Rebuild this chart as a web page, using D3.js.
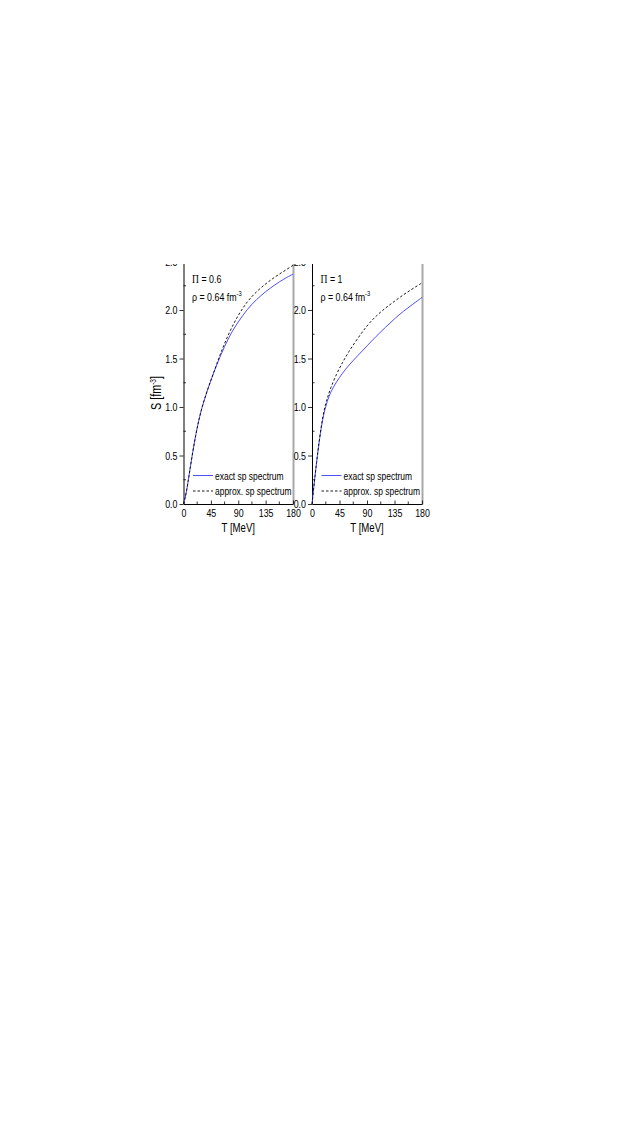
<!DOCTYPE html>
<html>
<head>
<meta charset="utf-8">
<script src="https://cdn.jsdelivr.net/npm/d3@7"></script>
<style>
  body { margin: 0; background: #fff; }
  svg text { font-family: "Liberation Sans", Arial, sans-serif; fill: #000; }
</style>
</head>
<body>
<script>
// temperature grid (MeV) shared by all curves
const tVals = [0, 2.5, 5, 7.5, 10, 15, 20, 25, 30, 40, 50, 60, 75, 90, 105, 120, 135, 150, 165, 180];

// Pi = 0.6 panel
const leftExact  = [0, 0.06, 0.13, 0.23, 0.33, 0.53, 0.71, 0.86, 0.99, 1.19, 1.36, 1.52, 1.73, 1.88, 2.01, 2.11, 2.19, 2.26, 2.32, 2.37];
const leftApprox = [0, 0.06, 0.13, 0.23, 0.33, 0.53, 0.71, 0.86, 0.99, 1.19, 1.36, 1.54, 1.77, 1.95, 2.09, 2.19, 2.27, 2.34, 2.40, 2.46];

// Pi = 1 panel
const rightExact  = [0, 0.15, 0.29, 0.43, 0.56, 0.79, 0.95, 1.06, 1.15, 1.26, 1.35, 1.43, 1.53, 1.63, 1.73, 1.82, 1.91, 1.99, 2.06, 2.13];
const rightApprox = [0, 0.15, 0.29, 0.43, 0.56, 0.80, 0.98, 1.09, 1.19, 1.34, 1.46, 1.57, 1.71, 1.84, 1.94, 2.02, 2.09, 2.16, 2.22, 2.28];

const xTicks = [0, 45, 90, 135, 180];
const yTicks = [0, 0.5, 1.0, 1.5, 2.0, 2.5];
const legendLabels = ["exact sp spectrum", "approx. sp spectrum"];

const W = 627, H = 1127;
const blue = "#4f4fff";
const SX = 0.77;   // the source uses a narrow sans face

const svg = d3.select("body").append("svg")
  .attr("width", W).attr("height", H);

// the source figure is cut off along the top
svg.append("defs").append("clipPath").attr("id", "pageClip")
  .append("rect").attr("x", 0).attr("y", 264).attr("width", W).attr("height", H - 264);

const root = svg.append("g").attr("clip-path", "url(#pageClip)");

// condensed text placed at (x, y)
function ctext(parent, x, y, size, anchor, extra) {
  return parent.append("g")
    .attr("transform", `translate(${x},${y})${extra || ""} scale(${SX},1)`)
    .append("text")
    .attr("font-size", size)
    .attr("text-anchor", anchor || "start");
}

const y = d3.scaleLinear().domain([0, 2.5]).range([504, 261.5]);

const panels = [
  { x0: 183.5, x1: 293, exact: leftExact, approx: leftApprox, pi: "0.6", showYTitle: true, legendX: 193 },
  { x0: 312, x1: 422, exact: rightExact, approx: rightApprox, pi: "1", showYTitle: false, legendX: 321.5 }
];

panels.forEach(p => {
  const x = d3.scaleLinear().domain([0, 180]).range([p.x0, p.x1]);
  const g = root.append("g");

  // right frame edge (grey)
  g.append("line")
    .attr("x1", p.x1 + 0.5).attr("x2", p.x1 + 0.5)
    .attr("y1", 258).attr("y2", 504.5)
    .attr("stroke", "#a8a8a8").attr("stroke-width", 2);

  // minor ticks (inside)
  const minorX = d3.range(22.5, 180, 45);
  g.selectAll(".mx").data(minorX).enter().append("line")
    .attr("x1", d => x(d)).attr("x2", d => x(d))
    .attr("y1", 504).attr("y2", 501.5)
    .attr("stroke", "#000").attr("stroke-width", 0.8);
  const minorY = d3.range(0.25, 2.5, 0.5);
  g.selectAll(".my").data(minorY).enter().append("line")
    .attr("x1", p.x0).attr("x2", p.x0 + 2.5)
    .attr("y1", d => y(d)).attr("y2", d => y(d))
    .attr("stroke", "#000").attr("stroke-width", 0.8);

  // axes
  const xAxis = g.append("g").attr("transform", "translate(0,504)")
    .call(d3.axisBottom(x).tickValues(xTicks).tickFormat(d3.format("d"))
      .tickSize(-3.5).tickPadding(5).tickSizeOuter(0));
  const yAxis = g.append("g").attr("transform", `translate(${p.x0},0)`)
    .call(d3.axisLeft(y).tickValues(yTicks).tickFormat(d3.format(".1f"))
      .tickSize(4).tickPadding(3).tickSizeOuter(0));
  [xAxis, yAxis].forEach(a => {
    a.select(".domain").attr("stroke", "#000").attr("stroke-width", 1);
    a.selectAll(".tick line").attr("stroke", "#000").attr("stroke-width", 0.8);
    a.selectAll("text").attr("font-size", 11.5).attr("font-family", null).attr("fill", "#000")
      .attr("transform", `scale(${SX},1)`);
  });
  yAxis.selectAll("text").attr("x", -6 / SX);
  xAxis.selectAll("text").attr("dy", "0.71em");

  // curves
  const line = d3.line().x((d, i) => x(tVals[i])).y(d => y(d)).curve(d3.curveBasis);
  g.append("path").datum(p.exact).attr("d", line)
    .attr("fill", "none").attr("stroke", blue).attr("stroke-width", 1);
  g.append("path").datum(p.approx).attr("d", line)
    .attr("fill", "none").attr("stroke", "#000").attr("stroke-width", 0.9)
    .attr("stroke-dasharray", "2.5,2");

  // annotation
  const pt = ctext(g, p.x0 + 8.5, 283, 11.5);
  pt.append("tspan").attr("font-family", "Liberation Serif, serif").attr("font-size", 12.5).text("\u03A0");
  pt.append("tspan").text(" = " + p.pi);
  const rho = ctext(g, p.x0 + 8.5, 301, 11.5);
  rho.append("tspan").text("\u03C1 = 0.64 fm");
  rho.append("tspan").attr("font-size", 7.5).attr("dy", -5).text("-3");

  // legend
  const rows = [
    { label: legendLabels[0], dash: null, color: blue },
    { label: legendLabels[1], dash: "2.5,2", color: "#000" }
  ];
  rows.forEach((r, i) => {
    const ly = 475.5 + i * 15.5;
    g.append("line").attr("x1", p.legendX).attr("x2", p.legendX + 20)
      .attr("y1", ly).attr("y2", ly)
      .attr("stroke", r.color).attr("stroke-width", i === 0 ? 1 : 0.9)
      .attr("stroke-dasharray", r.dash);
    ctext(g, p.legendX + 22, ly + 4, 11).text(r.label);
  });

  // x title
  ctext(g, (p.x0 + p.x1) / 2, 532, 12.5, "middle").text("T [MeV]");

  if (p.showYTitle) {
    const yt = ctext(g, 161, 393, 14, "middle", " rotate(-90)");
    yt.append("tspan").text("S [fm");
    yt.append("tspan").attr("font-size", 8.5).attr("dy", -5).text("-3");
    yt.append("tspan").attr("dy", 5).text("]");
  }
});
</script>
</body>
</html>
